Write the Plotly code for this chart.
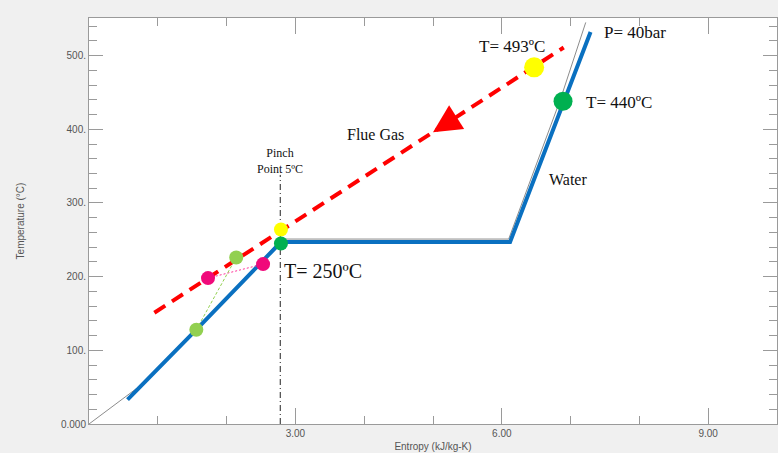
import plotly.graph_objects as go

# ---- data (entropy kJ/kg-K, temperature °C) ----
water_s = [0.56, 1.56, 2.79, 6.12, 7.29]
water_T = [33, 128, 247, 247, 532]

sat_s = [0.0, 0.76, 1.56, 2.80, 6.10, 6.85, 7.22]
sat_T = [0, 53, 126, 251, 251, 440, 545]

gas_s = [0.95, 6.90]
gas_T = [151, 511]

arrow_s = [5.0]
arrow_T = [396]

pinch_s = [2.78, 2.78]
pinch_T = [0, 338]

hot_big_s, hot_big_T = [6.47], [484]      # T=493
cold_big_s, cold_big_T = [6.89], [438]    # T=440
pinch_hot_s, pinch_hot_T = [2.79], [264]
pinch_cold_s, pinch_cold_T = [2.79], [245]
mag_s = [1.73, 2.53]
mag_T = [198, 217]
lg_s = [1.56, 2.14]
lg_T = [128, 226]

x_ticks = [3, 6, 9]
x_ticktext = ["3.00", "6.00", "9.00"]
y_ticks = [0, 100, 200, 300, 400, 500]
y_ticktext = ["0.000", "100.", "200.", "300.", "400.", "500."]

labels = [
    ("Pinch<br>Point 5ºC", 2.78, 357, "center", 12),
    ("T= 250ºC", 2.80, 208, "left", 20),
    ("T= 493ºC", 5.64, 512, "left", 17),
    ("T= 440ºC", 7.19, 437, "left", 17),
    ("P= 40bar", 7.45, 531, "left", 17),
    ("Flue Gas", 3.72, 393, "left", 16),
    ("Water", 6.66, 332, "left", 16),
]

fig = go.Figure()

fig.add_trace(go.Scatter(x=sat_s, y=sat_T, mode="lines",
                         line=dict(color="#8c8c8c", width=1), hoverinfo="skip"))
fig.add_trace(go.Scatter(x=water_s, y=water_T, mode="lines",
                         line=dict(color="#0a70c0", width=4), hoverinfo="skip"))
fig.add_trace(go.Scatter(x=pinch_s, y=pinch_T, mode="lines",
                         line=dict(color="#222222", width=1, dash="6px,3px,1px,3px")))
fig.add_trace(go.Scatter(x=gas_s, y=gas_T, mode="lines",
                         line=dict(color="#ff0000", width=4, dash="13px,8px")))
fig.add_trace(go.Scatter(x=mag_s, y=mag_T, mode="lines",
                         line=dict(color="#ff3399", width=1, dash="2px,2px")))
fig.add_trace(go.Scatter(x=lg_s, y=lg_T, mode="lines",
                         line=dict(color="#92d050", width=1, dash="3px,2px")))

def dots(xs, ys, color, size):
    fig.add_trace(go.Scatter(x=xs, y=ys, mode="markers",
                             marker=dict(color=color, size=size, line=dict(width=0))))

dots(mag_s, mag_T, "#f0097a", 14)
dots(lg_s, lg_T, "#92d050", 14)
dots(pinch_hot_s, pinch_hot_T, "#ffff00", 14)
dots(pinch_cold_s, pinch_cold_T, "#00b050", 14)
dots(hot_big_s, hot_big_T, "#ffff00", 20)
dots(cold_big_s, cold_big_T, "#00b050", 19)

# flow direction arrowhead on flue gas line
fig.add_annotation(x=arrow_s[0], y=arrow_T[0], ax=22, ay=-14, text="",
                   showarrow=True, arrowhead=2, arrowsize=2.8, arrowwidth=2,
                   arrowcolor="#ff0000")

for txt, sx, ty, anchor, fs in labels:
    fig.add_annotation(x=sx, y=ty, text=txt, showarrow=False, xanchor=anchor,
                       yanchor="middle",
                       font=dict(family="Liberation Serif", size=fs, color="#111111"))

axis_font = dict(family="Liberation Sans", size=10, color="#555555")
fig.update_xaxes(range=[0, 10], showline=True, linecolor="#9a9a9a", linewidth=1,
                 mirror="allticks", ticks="inside", ticklen=16, tickcolor="#9a9a9a",
                 tickvals=x_ticks, ticktext=x_ticktext, tickfont=axis_font,
                 minor=dict(ticks="inside", ticklen=8, dtick=1, tick0=0, tickcolor="#9a9a9a"),
                 showgrid=False, zeroline=False, automargin=False,
                 title=dict(text="Entropy (kJ/kg-K)", font=axis_font, standoff=4))
fig.update_yaxes(range=[0, 551], showline=True, linecolor="#9a9a9a", linewidth=1,
                 mirror="allticks", ticks="inside", ticklen=14, tickcolor="#9a9a9a",
                 tickvals=y_ticks, ticktext=y_ticktext, tickfont=axis_font,
                 minor=dict(ticks="inside", ticklen=8, dtick=20, tick0=0, tickcolor="#9a9a9a"),
                 showgrid=False, zeroline=False, automargin=False,
                 title=dict(text="Temperature (°C)", font=axis_font, standoff=34))

fig.update_layout(width=778, height=453, showlegend=False,
                  margin=dict(l=89, r=1, t=18, b=29),
                  paper_bgcolor="#f0f0f0", plot_bgcolor="#ffffff")

fig.write_html("out.html", config={"displayModeBar": False},
               post_script="document.body.style.margin='0';")
